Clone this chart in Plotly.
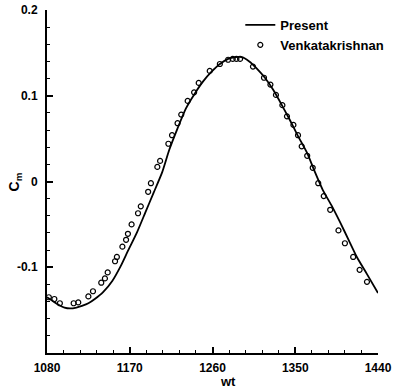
import plotly.graph_objects as go

# Present (solid curve)
present_wt = [1080, 1087, 1093, 1099, 1105, 1112, 1118, 1125, 1132, 1141, 1151, 1160, 1168,
              1178, 1187, 1196, 1205, 1213, 1222, 1231, 1241, 1250, 1259, 1268, 1277, 1285,
              1292, 1300, 1308, 1317, 1326, 1335, 1344, 1353, 1363, 1371, 1380, 1390, 1399,
              1408, 1417, 1428, 1440]
present_cm = [-0.135, -0.140, -0.144, -0.147, -0.148, -0.147, -0.145, -0.142, -0.137, -0.129,
              -0.116, -0.099, -0.081, -0.059, -0.036, -0.013, 0.010, 0.037, 0.062, 0.085,
              0.103, 0.117, 0.128, 0.137, 0.143, 0.145, 0.145, 0.140, 0.132, 0.121, 0.107,
              0.090, 0.072, 0.053, 0.033, 0.012, -0.010, -0.029, -0.048, -0.068, -0.088,
              -0.108, -0.130]

# Venkatakrishnan (open circles)
venk_wt = [1082, 1088, 1094, 1109, 1114, 1125, 1130, 1139, 1143, 1146, 1154, 1156, 1162,
           1166, 1168, 1172, 1179, 1182, 1190, 1193, 1200, 1203, 1212, 1216, 1222, 1226,
           1233, 1240, 1245, 1257, 1268, 1277, 1282, 1286, 1290, 1304, 1316, 1323, 1329,
           1336, 1341, 1348, 1353, 1357, 1363, 1369, 1375, 1381, 1388, 1397, 1404, 1413,
           1420, 1428]
venk_cm = [-0.135, -0.137, -0.142, -0.142, -0.141, -0.134, -0.128, -0.118, -0.113, -0.106,
           -0.093, -0.088, -0.076, -0.068, -0.061, -0.050, -0.037, -0.029, -0.012, -0.002,
           0.017, 0.024, 0.044, 0.054, 0.068, 0.078, 0.094, 0.104, 0.115, 0.129, 0.137,
           0.142, 0.143, 0.143, 0.143, 0.134, 0.121, 0.113, 0.101, 0.089, 0.076, 0.066,
           0.054, 0.041, 0.030, 0.016, -0.002, -0.017, -0.033, -0.057, -0.072, -0.088,
           -0.103, -0.117]

x_ticks = [1080, 1170, 1260, 1350, 1440]
y_ticks = [-0.1, 0, 0.1, 0.2]
y_labels = ["-0.1", "0", "0.1", "0.2"]

FONT = "Liberation Sans, Arial, sans-serif"

fig = go.Figure()
fig.add_trace(go.Scatter(x=present_wt, y=present_cm, mode="lines", name="Present",
                         line=dict(color="black", width=1.8, shape="spline", smoothing=0.6)))
fig.add_trace(go.Scatter(x=venk_wt, y=venk_cm, mode="markers", name="Venkatakrishnan",
                         marker=dict(symbol="circle-open", size=5, color="black",
                                     line=dict(width=1.2, color="black"))))

axis_common = dict(showline=True, linecolor="black", linewidth=2, ticks="inside",
                   ticklen=6, tickwidth=2, tickcolor="black", showgrid=False,
                   zeroline=False, mirror=False, automargin=False,
                   tickfont=dict(family=FONT, size=12, color="black", weight="bold"))

fig.update_xaxes(range=[1080, 1440], tickvals=x_ticks, ticktext=[str(v) for v in x_ticks],
                 minor=dict(ticks="inside", ticklen=3, tickwidth=1, dtick=18, tick0=1080,
                            tickcolor="black", showgrid=False),
                 ticklabelstandoff=3, **axis_common)
fig.update_yaxes(range=[-0.2, 0.2], tickvals=y_ticks, ticktext=y_labels,
                 minor=dict(ticks="inside", ticklen=3, tickwidth=1, dtick=0.02, tick0=0,
                            tickcolor="black", showgrid=False),
                 ticklabelstandoff=5, **axis_common)

fig.update_layout(
    width=393, height=389,
    margin=dict(l=47, r=15, t=10, b=36, autoexpand=False),
    paper_bgcolor="white", plot_bgcolor="white",
    showlegend=True,
    legend=dict(x=0.584, y=1.0, xanchor="left", yanchor="top",
                bgcolor="rgba(0,0,0,0)", borderwidth=0,
                font=dict(family=FONT, size=13, color="black", weight="bold"),
                tracegroupgap=0, itemwidth=30),
    annotations=[
        dict(text="C<sub>m</sub>", xref="paper", yref="paper", x=-0.097, y=0.5,
             textangle=-90, showarrow=False, xanchor="center", yanchor="middle",
             font=dict(family=FONT, size=14, color="black", weight="bold")),
        dict(text="wt", xref="paper", yref="paper", x=0.547, y=-0.082,
             showarrow=False, xanchor="center", yanchor="middle",
             font=dict(family=FONT, size=13, color="black", weight="bold")),
    ],
)

# remove the default 8px page margin so the figure fills the 393x389 window exactly
fig.write_html("out.html",
               config={"displayModeBar": False},
               post_script="document.body.style.margin='0px';document.body.style.overflow='hidden';")
